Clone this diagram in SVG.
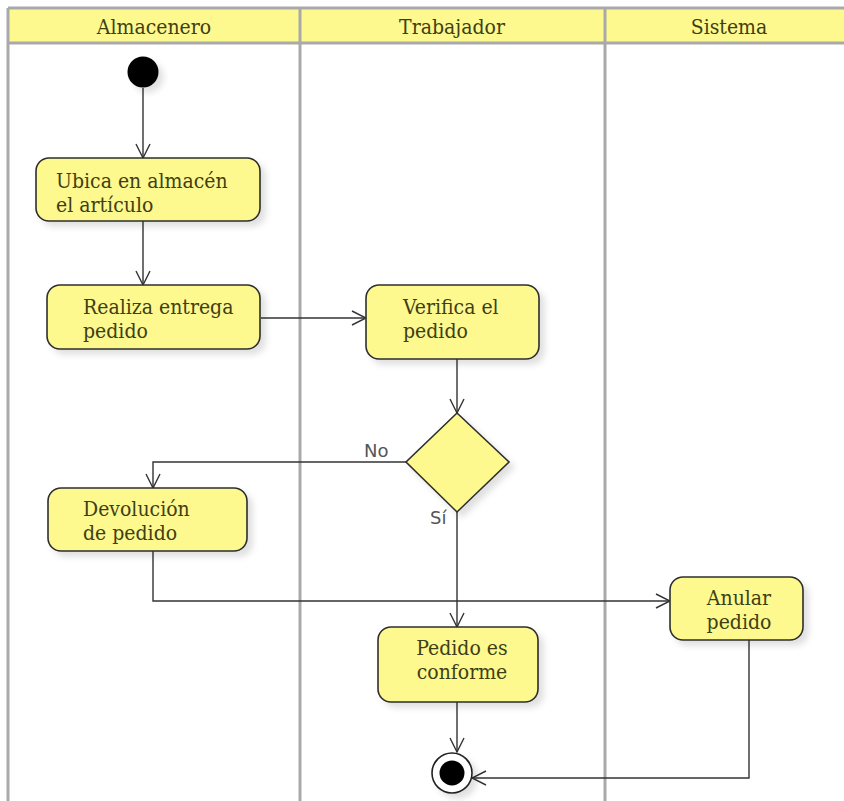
<svg xmlns="http://www.w3.org/2000/svg" width="844" height="801" viewBox="0 0 844 801">
  <style>
    .lane-line { stroke: #a9a9a9; stroke-width: 3; fill: none; }
    .lane-head { fill: #fdf98e; }
    .lane-title { font-family: "DejaVu Serif Condensed", "DejaVu Serif", "Liberation Serif", serif; font-stretch: condensed; font-size: 21px; fill: #3f3f14; text-anchor: middle; }
    .action { fill: #fdf98e; stroke: #2e2e2e; stroke-width: 1.6; filter: url(#shadow); }
    .label { font-family: "DejaVu Serif Condensed", "DejaVu Serif", "Liberation Serif", serif; font-stretch: condensed; font-size: 21px; fill: #3f3f14; }
    .guard { font-family: "DejaVu Sans", "Liberation Sans", sans-serif; font-size: 18px; fill: #555555; }
    .flow { fill: none; stroke: #333333; stroke-width: 1.4; marker-end: url(#open-arrow); }
  </style>
  <defs>
    <filter id="shadow" x="-20%" y="-20%" width="150%" height="150%">
      <feDropShadow dx="5" dy="5" stdDeviation="3" flood-color="#000000" flood-opacity="0.12"/>
    </filter>
    <marker id="open-arrow" viewBox="0 0 16 16" refX="15" refY="8" markerWidth="16" markerHeight="16" markerUnits="userSpaceOnUse" orient="auto">
      <path d="M1,1 L15,8 L1,15" fill="none" stroke="#333333" stroke-width="1.4"/>
    </marker>
  </defs>

  <rect x="0" y="0" width="844" height="801" fill="#ffffff"/>

  <!-- swimlanes -->
  <g id="lanes">
    <rect class="lane-head" x="8" y="8" width="840" height="35"/>
    <line class="lane-line" x1="8" y1="8" x2="844" y2="8"/>
    <line class="lane-line" x1="8" y1="43" x2="844" y2="43"/>
    <line class="lane-line" x1="8" y1="8" x2="8" y2="801"/>
    <line class="lane-line" x1="300" y1="8" x2="300" y2="801"/>
    <line class="lane-line" x1="605" y1="8" x2="605" y2="801"/>
    <text class="lane-title" x="154" y="34">Almacenero</text>
    <text class="lane-title" x="452" y="34">Trabajador</text>
    <text class="lane-title" x="729" y="34">Sistema</text>
  </g>

  <!-- connectors -->
  <g id="connectors">
    <path class="flow" d="M143,88 L143,158"/>
    <path class="flow" d="M143,221 L143,285"/>
    <path class="flow" d="M261,318 L366,318"/>
    <path class="flow" d="M457,359 L457,413"/>
    <path class="flow" d="M407,462 L153,462 L153,488"/>
    <path class="flow" d="M457,512 L457,627"/>
    <path class="flow" d="M153,551 L153,601 L670,601"/>
    <path class="flow" d="M457,702 L457,752"/>
    <path class="flow" d="M749,640 L749,778 L472,778"/>
    <text class="guard" x="364" y="457">No</text>
    <text class="guard" x="430" y="524">Sí</text>
  </g>

  <!-- nodes -->
  <g id="start">
    <circle cx="143" cy="72" r="15.5" fill="#000000" filter="url(#shadow)"/>
  </g>

  <g id="ubica">
    <rect class="action" x="36" y="158" width="224" height="63" rx="13"/>
    <text class="label" x="56" y="188">Ubica en almacén</text>
    <text class="label" x="56" y="212">el artículo</text>
  </g>

  <g id="realiza">
    <rect class="action" x="47" y="285" width="213" height="64" rx="13"/>
    <text class="label" x="83" y="314">Realiza entrega</text>
    <text class="label" x="83" y="338">pedido</text>
  </g>

  <g id="verifica">
    <rect class="action" x="366" y="285" width="173" height="74" rx="13"/>
    <text class="label" x="403" y="314">Verifica el</text>
    <text class="label" x="403" y="338">pedido</text>
  </g>

  <g id="decision">
    <polygon class="action" points="457,413 509,462 457,512 406,462"/>
  </g>

  <g id="devolucion">
    <rect class="action" x="48" y="488" width="199" height="63" rx="13"/>
    <text class="label" x="83" y="516">Devolución</text>
    <text class="label" x="83" y="540">de pedido</text>
  </g>

  <g id="conforme">
    <rect class="action" x="378" y="627" width="160" height="75" rx="13"/>
    <text class="label" x="462" y="655" text-anchor="middle">Pedido es</text>
    <text class="label" x="462" y="679" text-anchor="middle">conforme</text>
  </g>

  <g id="anular">
    <rect class="action" x="670" y="577" width="133" height="63" rx="13"/>
    <text class="label" x="739" y="605" text-anchor="middle">Anular</text>
    <text class="label" x="739" y="629" text-anchor="middle">pedido</text>
  </g>

  <g id="end">
    <circle cx="452" cy="773" r="20" fill="#ffffff" stroke="#222222" stroke-width="1.6" filter="url(#shadow)"/>
    <circle cx="452" cy="773" r="12.5" fill="#000000"/>
  </g>
</svg>
